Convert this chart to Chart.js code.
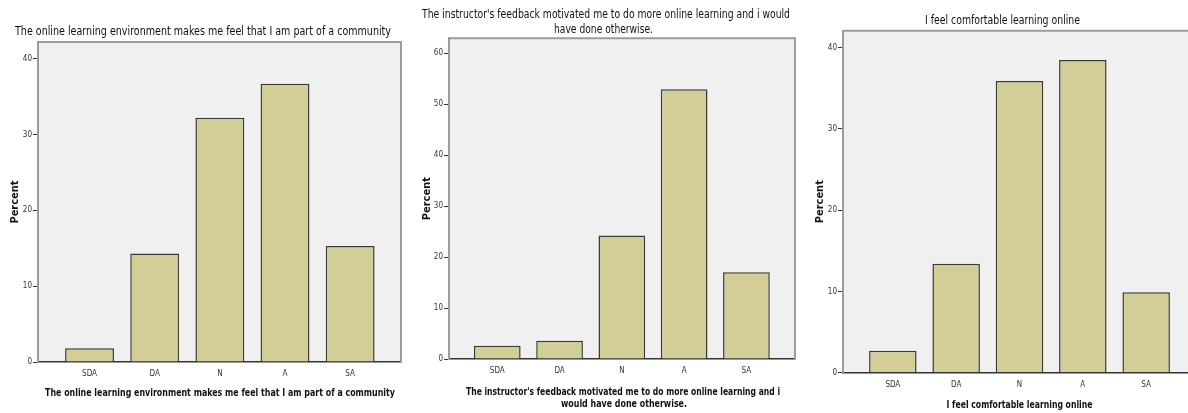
<!DOCTYPE html>
<html>
<head>
<meta charset="utf-8">
<script src="https://cdn.jsdelivr.net/npm/chart.js@4.4.1/dist/chart.umd.min.js"></script>
<style>
  html, body { margin: 0; padding: 0; background: #ffffff; overflow: hidden; }
  #wrap { position: relative; width: 1188px; height: 413px; overflow: hidden; background: #fff; }
  canvas { position: absolute; top: 0; }
</style>
</head>
<body>
<div id="wrap">
  <canvas id="c1" width="406" height="413" style="left:0px"></canvas>
  <canvas id="c2" width="400" height="413" style="left:406px"></canvas>
  <canvas id="c3" width="393" height="413" style="left:806px"></canvas>
</div>
<script>
// ---- data ----
const categories = ['SDA', 'DA', 'N', 'A', 'SA'];
const communityValues = [1.8, 14.3, 32.2, 36.7, 15.3];
const feedbackValues = [2.6, 3.6, 24.2, 52.9, 17.0];
const comfortableValues = [2.7, 13.4, 35.9, 38.5, 9.9];
const yTicks1 = [0, 10, 20, 30, 40];
const yTicks2 = [0, 10, 20, 30, 40, 50, 60];
const yTicks3 = [0, 10, 20, 30, 40];

const title1 = ['The online learning environment makes me feel that I am part of a community'];
const title2 = ["The instructor's feedback motivated me to do more online learning and i would", 'have done otherwise.'];
const title3 = ['I feel comfortable learning online'];
const xTitle1 = ['The online learning environment makes me feel that I am part of a community'];
const xTitle2 = ["The instructor's feedback motivated me to do more online learning and i", 'would have done otherwise.'];
const xTitle3 = ['I feel comfortable learning online'];
const yTitle = 'Percent';

const FONT = "'Liberation Sans Narrow', 'DejaVu Sans Condensed', 'Liberation Sans', Arial, sans-serif";
Chart.defaults.font.family = FONT;
Chart.defaults.color = '#222';

// draws the background/frame of the plot
const framePlugin = {
  id: 'frame',
  beforeDraw(chart) {
    const a = chart.chartArea, ctx = chart.ctx;
    ctx.save();
    ctx.fillStyle = '#f0f0f0';
    ctx.fillRect(a.left, a.top, a.right - a.left, a.bottom - a.top);
    ctx.restore();
  },
  afterDraw(chart) {
    const a = chart.chartArea, ctx = chart.ctx;
    ctx.save();
    ctx.strokeStyle = '#9c9c9c';
    ctx.lineWidth = 2;
    ctx.beginPath();
    ctx.moveTo(a.left, a.top);
    ctx.lineTo(a.right, a.top);
    ctx.lineTo(a.right, a.bottom);
    ctx.stroke();
    ctx.restore();
  }
};

// chart title and x-axis title text (narrow SPSS-like lettering)
const labelsPlugin = {
  id: 'spssLabels',
  afterDraw(chart, args, opts) {
    const ctx = chart.ctx;
    ctx.save();
    ctx.textAlign = 'center';
    ctx.textBaseline = 'middle';
    ctx.fillStyle = '#111';
    (opts.items || []).forEach(it => {
      ctx.font = (it.bold ? 'bold ' : '') + it.size + 'px ' + FONT;
      ctx.fillText(it.text, it.x, it.y, it.width);
    });
    ctx.restore();
  }
};

function makeItems(lines, xs, ys, widths, bold, size) {
  return lines.map((t, i) => ({ text: t, x: xs[i], y: ys[i], width: widths[i], bold, size }));
}

function makeChart(id, values, ticks, cfg) {
  const points = values.map((v, i) => ({ x: i, y: v }));
  return new Chart(document.getElementById(id), {
    type: 'bar',
    data: {
      datasets: [{
        data: points,
        backgroundColor: '#d3ce97',
        borderColor: '#3a3a35',
        borderWidth: 1.5,
        borderSkipped: 'bottom',
        barPercentage: 0.75,
        categoryPercentage: 1.0
      }]
    },
    options: {
      responsive: false,
      devicePixelRatio: 1,
      animation: false,
      layout: { padding: { left: 0, right: cfg.padRight, top: cfg.padTop, bottom: 0 } },
      plugins: {
        legend: { display: false },
        tooltip: { enabled: false },
        title: { display: false },
        spssLabels: { items: cfg.items }
      },
      scales: {
        x: {
          type: 'linear',
          offset: false,
          min: cfg.xMin,
          max: cfg.xMax,
          afterFit(s) { s.height = cfg.xHeight; },
          grid: { display: true, offset: false, drawOnChartArea: false, drawTicks: false },
          border: { display: true, color: '#333', width: 1.5 },
          ticks: {
            stepSize: 1,
            includeBounds: false,
            autoSkip: false,
            maxRotation: 0,
            padding: 7,
            color: '#333',
            font: { size: 8 },
            callback: (v) => (Number.isInteger(v) && categories[v] !== undefined) ? categories[v] : ''
          },
          title: { display: false }
        },
        y: {
          type: 'linear',
          min: 0,
          max: cfg.yMax,
          afterFit(s) { s.width = cfg.yWidth; },
          afterBuildTicks(s) { s.ticks = ticks.map(v => ({ value: v })); },
          grid: { display: true, drawOnChartArea: false, drawTicks: true, tickLength: 5, tickColor: '#333', tickWidth: 1 },
          border: { display: true, color: '#9c9c9c', width: 2 },
          ticks: {
            padding: 1,
            color: '#333',
            font: { size: 8 }
          },
          title: {
            display: true,
            text: yTitle,
            color: '#111',
            font: { size: 11, weight: 'bold', lineHeight: 1.2 },
            padding: { top: cfg.yTitlePadTop, bottom: 0 }
          }
        }
      }
    },
    plugins: [framePlugin, labelsPlugin]
  });
}

makeChart('c1', communityValues, yTicks1, {
  padTop: 42, xHeight: 51, xMin: -0.791, xMax: 4.78, yMax: 42.2, yWidth: 38, yTitlePadTop: 8.1, padRight: 5,
  items: [].concat(
    makeItems(title1, [203], [31.7], [376], false, 12),
    makeItems(xTitle1, [220], [393.3], [350], true, 11)
  )
});
makeChart('c2', feedbackValues, yTicks2, {
  padTop: 38.3, xHeight: 54, xMin: -0.775, xMax: 4.78, yMax: 62.9, yWidth: 43, yTitlePadTop: 14.1, padRight: 11,
  items: [].concat(
    makeItems(title2, [200, 197.5], [14.7, 30.3], [368, 99], false, 12),
    makeItems(xTitle2, [217, 218], [391.7, 404.3], [314, 126], true, 11)
  )
});
makeChart('c3', comfortableValues, yTicks3, {
  padTop: 30.7, xHeight: 40.3, xMin: -0.787, xMax: 4.787, yMax: 42.1, yWidth: 37, yTitlePadTop: 7.4, padRight: 3,
  items: [].concat(
    makeItems(title3, [196.5], [20.7], [155], false, 12),
    makeItems(xTitle3, [213.5], [405], [146], true, 11)
  )
});
</script>
</body>
</html>
